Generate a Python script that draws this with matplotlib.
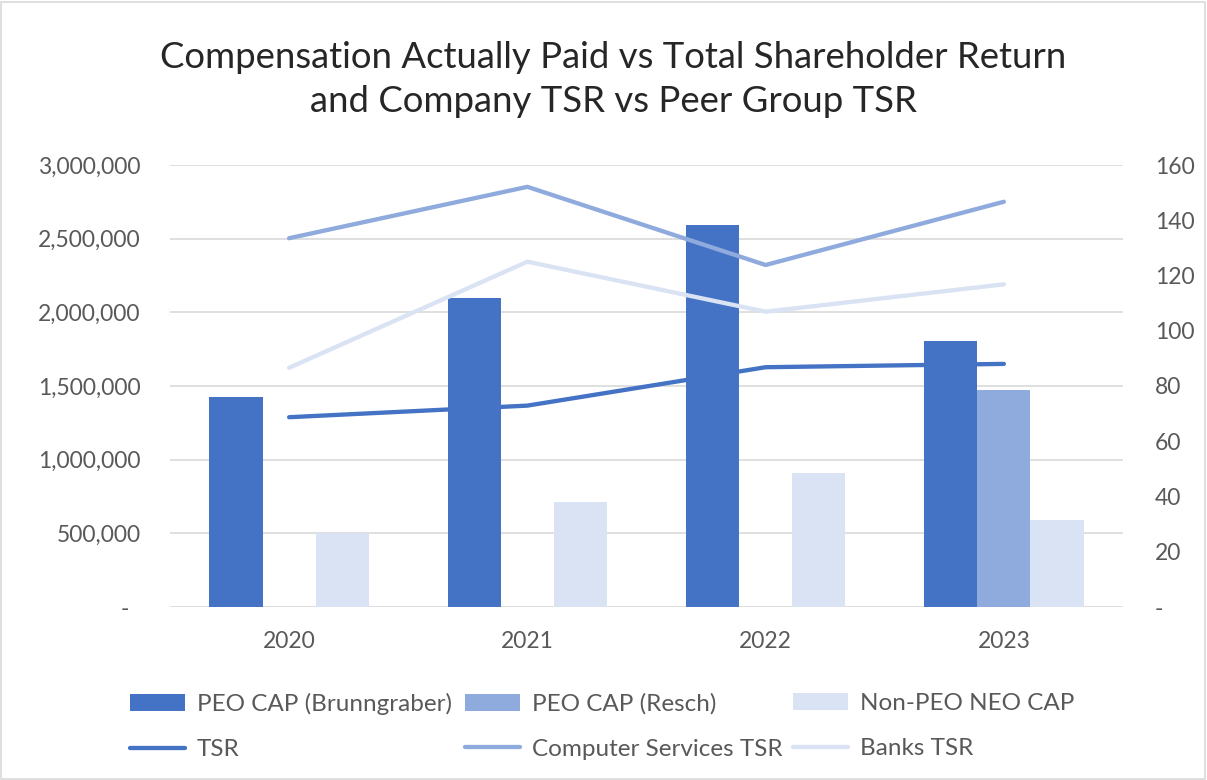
import matplotlib.pyplot as plt
from matplotlib.patches import Rectangle
from matplotlib.ticker import FuncFormatter
import numpy as np

plt.rcParams['font.family'] = ['Lato', 'DejaVu Sans']

years = ['2020', '2021', '2022', '2023']
cap_brunngraber = [1425000, 2099000, 2593000, 1805000]
cap_resch = [0, 0, 0, 1473000]
cap_non_peo = [502000, 713000, 909000, 591000]
tsr = [68.7, 72.9, 86.8, 88.0]
cs_tsr = [133.5, 152.1, 123.8, 146.7]
banks_tsr = [86.6, 125.0, 106.9, 116.8]

dark = '#4472C4'
mid = '#8FAADC'
light = '#DAE3F3'
txt = '#595959'
grid = '#D9D9D9'

W, H = 1207, 780
fig = plt.figure(figsize=(W / 100, H / 100), dpi=100)
ax = fig.add_axes([170 / W, 1 - 607 / H, (1123 - 170) / W, (607 - 165) / H])
ax2 = ax.twinx()

x = np.arange(len(years))
w = 0.223
b1 = ax.bar(x - w, cap_brunngraber, w, color=dark, label='PEO CAP (Brunngraber)', zorder=2)
b2 = ax.bar(x, cap_resch, w, color=mid, label='PEO CAP (Resch)', zorder=2)
b3 = ax.bar(x + w, cap_non_peo, w, color=light, label='Non-PEO NEO CAP', zorder=2)

l1, = ax2.plot(x, tsr, color=dark, lw=3.1, solid_capstyle='round', label='TSR')
l2, = ax2.plot(x, cs_tsr, color=mid, lw=3.1, solid_capstyle='round', label='Computer Services TSR')
l3, = ax2.plot(x, banks_tsr, color=light, lw=3.1, solid_capstyle='round', label='Banks TSR')

ax.set_xlim(-0.5, 3.5)
ax.set_ylim(0, 3000000)
ax2.set_ylim(0, 160)
ax.set_yticks(np.arange(0, 3000001, 500000))
ax2.set_yticks(np.arange(0, 161, 20))
ax.yaxis.set_major_formatter(FuncFormatter(lambda v, p: '-  ' if v == 0 else f'{int(v):,}'))
ax2.yaxis.set_major_formatter(FuncFormatter(lambda v, p: '-' if v == 0 else f'{int(v)}'))
ax.set_xticks(x)
ax.set_xticklabels(years)

ax.grid(axis='y', color=grid, lw=1.2, zorder=0)
ax.set_axisbelow(True)
for a in (ax, ax2):
    for s in a.spines.values():
        s.set_visible(False)
    a.tick_params(length=0, labelsize=16.5, colors=txt)
ax.tick_params(axis='y', pad=21)
ax2.tick_params(axis='y', pad=23)
ax.tick_params(axis='x', pad=17)

fig.suptitle('Compensation Actually Paid vs Total Shareholder Return\nand Company TSR vs Peer Group TSR',
             x=0.508, y=1 - 41 / H, fontsize=26.3, color='#262626', linespacing=1.42, va='top')

# legend: three columns placed where the reference has them
cols = [(130, [b1, l1]), (465, [b2, l2]), (793, [b3, l3])]
for xl, hs in cols:
    leg = fig.legend(hs, [h.get_label() for h in hs], ncol=1, loc='upper left',
                     bbox_to_anchor=(xl / W, 1 - 693 / H), borderpad=0, borderaxespad=0,
                     frameon=False, fontsize=17.5, labelcolor=txt, handlelength=2.26,
                     handleheight=0.7, handletextpad=0.5, labelspacing=1.0)

fig.patches.append(Rectangle((0.001, 0.001), 0.997, 0.997, transform=fig.transFigure,
                             fill=False, edgecolor='#D9D9D9', lw=1.2))

fig.savefig('out.png', dpi=100, facecolor='white')
